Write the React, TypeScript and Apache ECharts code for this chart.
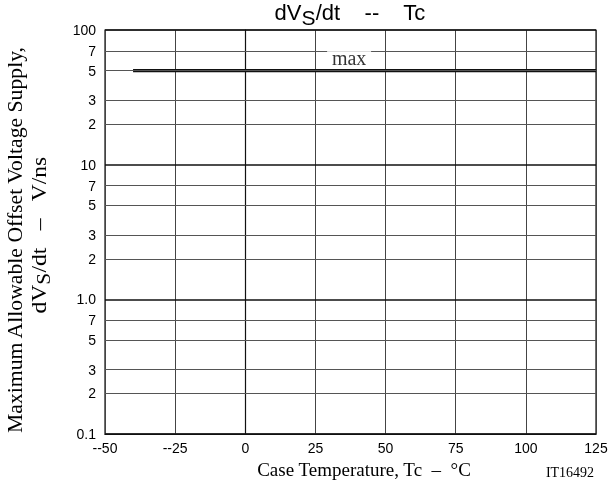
import React, { useEffect, useRef } from "react";
import * as echarts from "echarts";

const SANS = "'Liberation Sans', Arial, sans-serif";
const SERIF = "'Liberation Serif', 'Times New Roman', serif";

// x axis (case temperature, °C)
const xMin = -50;
const xMax = 125;
const xStep = 25;

// y axis (dVs/dt, V/ns) – log grid lines and their printed labels
const yTicks = [100, 70, 50, 30, 20, 10, 7, 5, 3, 2, 1, 0.7, 0.5, 0.3, 0.2, 0.1];
const yTickLabels = ["100", "7", "5", "3", "2", "10", "7", "5", "3", "2", "1.0", "7", "5", "3", "2", "0.1"];

// max curve
const maxTemps = [-40, 125];
const maxValues = [50, 50];

// "max" annotation position (data coords)
const maxLabelPos = [37, 62];

export default function App() {
  const ref = useRef<HTMLDivElement>(null);
  useEffect(() => {
    if (!ref.current) return;
    const chart = echarts.init(ref.current, null, { renderer: "svg" });
    const gridData = yTicks.map((v, i) => {
      const major = Math.abs(Math.log10(v) - Math.round(Math.log10(v))) < 1e-9;
      return {
        yAxis: v,
        label: { formatter: yTickLabels[i] },
        lineStyle: { color: major ? "#111" : "#555", width: major ? 1.5 : 1, type: "solid" },
      };
    });
    chart.setOption({
      animation: false,
      grid: { left: 105, right: 16, top: 30, bottom: 54, show: true, borderColor: "#111", borderWidth: 1.2 },
      xAxis: {
        type: "value",
        min: xMin,
        max: xMax,
        interval: xStep,
        axisLine: { show: true, lineStyle: { color: "#111", width: 1.2 } },
        axisTick: { show: false },
        axisLabel: {
          color: "#000",
          fontFamily: SANS,
          fontSize: 14,
          margin: 7,
          formatter: (v: number) => (v < 0 ? "--" + Math.abs(v) : String(v)),
        },
        splitLine: { show: true, lineStyle: { color: "#444", width: 1 } },
      },
      yAxis: {
        type: "log",
        logBase: 10,
        min: 0.1,
        max: 100,
        axisLine: { show: true, lineStyle: { color: "#111", width: 1.2 } },
        axisTick: { show: false },
        axisLabel: { show: false },
        splitLine: { show: false },
      },
      graphic: [
        {
          type: "text",
          x: 350,
          y: 1,
          style: {
            text: "{a|dV}{s|S}{a|/dt    --    Tc}",
            textAlign: "center",
            textVerticalAlign: "top",
            fill: "#000",
            rich: {
              a: { fontFamily: SANS, fontSize: 22, lineHeight: 26, verticalAlign: "top", fill: "#000" },
              s: { fontFamily: SANS, fontSize: 21, lineHeight: 26, padding: [6, 0, 0, 0], verticalAlign: "top", fill: "#000" },
            },
          },
        },
        {
          type: "text",
          x: 15,
          y: 240,
          rotation: Math.PI / 2,
          scaleX: 1.085,
          style: {
            text: "Maximum Allowable Offset Voltage Supply,",
            font: `20px ${SERIF}`,
            textAlign: "center",
            textVerticalAlign: "middle",
            fill: "#000",
          },
        },
        {
          type: "text",
          x: 40,
          y: 235,
          rotation: Math.PI / 2,
          scaleX: 1.12,
          style: {
            text: "{a|dV}{s|S}{a|/dt   –   V/ns}",
            textAlign: "center",
            textVerticalAlign: "middle",
            fill: "#000",
            rich: {
              a: { fontFamily: SERIF, fontSize: 21, lineHeight: 24, verticalAlign: "top", fill: "#000" },
              s: { fontFamily: SERIF, fontSize: 19, lineHeight: 24, padding: [6, 0, 0, 0], verticalAlign: "top", fill: "#000" },
            },
          },
        },
        {
          type: "text",
          x: 364,
          y: 469,
          style: {
            text: "Case Temperature, Tc  –  °C",
            font: `19px ${SERIF}`,
            textAlign: "center",
            textVerticalAlign: "middle",
            fill: "#000",
          },
        },
        {
          type: "text",
          x: 570,
          y: 472,
          style: {
            text: "IT16492",
            font: `14px ${SERIF}`,
            textAlign: "center",
            textVerticalAlign: "middle",
            fill: "#000",
          },
        },
      ],
      series: [
        {
          name: "grid",
          type: "line",
          data: [],
          z: 1,
          silent: true,
          markLine: {
            silent: true,
            symbol: ["none", "none"],
            animation: false,
            emphasis: { disabled: true },
            label: {
              show: true,
              position: "start",
              distance: 9,
              color: "#000",
              fontFamily: SANS,
              fontSize: 14,
            },
            data: gridData,
          },
        },
        {
          name: "max",
          type: "line",
          z: 3,
          silent: true,
          symbol: "none",
          lineStyle: { color: "#111", width: 3.2 },
          data: maxTemps.map((t, i) => [t, maxValues[i]]),
        },
        {
          name: "maxLabel",
          type: "scatter",
          z: 5,
          silent: true,
          symbol: "rect",
          symbolSize: [44, 20],
          itemStyle: { color: "#fff" },
          label: {
            show: true,
            position: "inside",
            formatter: "max",
            color: "#000",
            fontFamily: SERIF,
            fontSize: 20,
          },
          data: [maxLabelPos],
        },
      ],
    });
    return () => chart.dispose();
  }, []);
  return <div ref={ref} style={{ position: "fixed", left: 0, top: 0, width: 612, height: 488 }} />;
}
